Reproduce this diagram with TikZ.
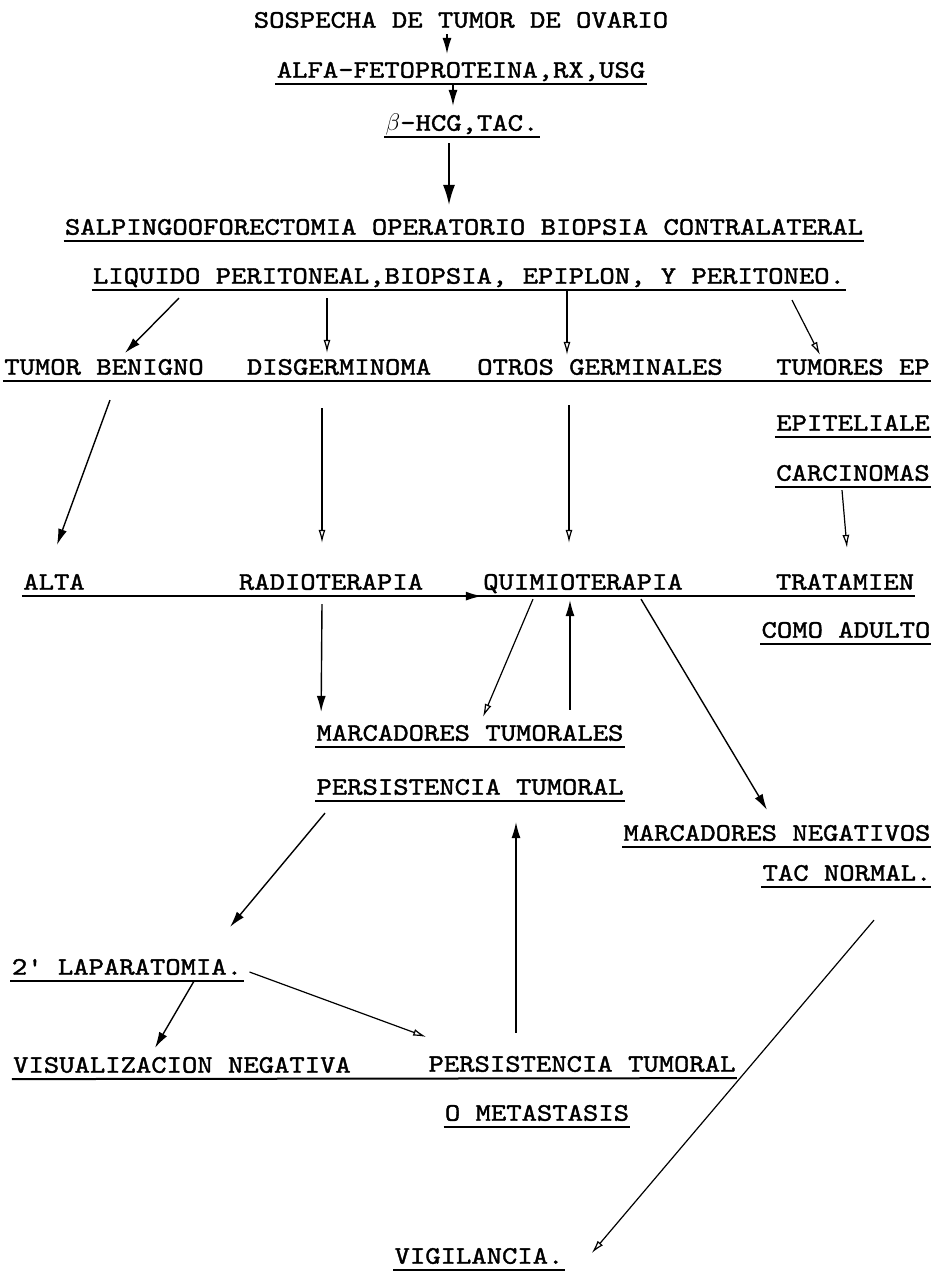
\documentclass[tikz,border=0pt]{standalone}
\usepackage{fontspec}
\setmonofont{lmmono10-regular.otf}[FakeBold=1.5, FakeStretch=1.16]
\usetikzlibrary{arrows.meta, calc}

\begin{document}
\begin{tikzpicture}[
  x=0.5pt, y=-0.5pt,
  txt/.style={inner xsep=0.5pt, inner ysep=3pt, text height=7.7pt, text depth=0pt, font=\fontsize{12.6}{15}\selectfont\ttfamily},
  uline/.style={line width=1pt},
  ul/.style={txt, append after command={(\tikzlastnode.south west) edge[uline] (\tikzlastnode.south east)}},
  arf/.style={line width=0.7pt, -{Latex[length=8pt, width=4.5pt]}},
  arbig/.style={line width=0.8pt, -{Latex[length=10pt, width=6pt]}},
  aro/.style={line width=0.6pt, -{Latex[open, length=6.5pt, width=3.5pt]}}
]
  \useasboundingbox (0,0) rectangle (931,1276);

  \node[txt] (sosp) at (461,20) {SOSPECHA DE TUMOR DE OVARIO};
  \node[ul] (alfa) at (461,70) {ALFA-FETOPROTEINA,RX,USG};
  \node[ul] (bhcg) at (462,123) {$\beta$-HCG,TAC.};
  \node[ul] (salp) at (464,227) {SALPINGOOFORECTOMIA OPERATORIO BIOPSIA CONTRALATERAL};
  \node[ul] (liq) at (469,276) {LIQUIDO PERITONEAL,BIOPSIA, EPIPLON, Y PERITONEO.};

  \node[txt] (benigno) at (104,367) {TUMOR BENIGNO};
  \node[txt] (disger) at (339,367) {DISGERMINOMA};
  \node[txt] (otros) at (600,367) {OTROS GERMINALES};
  \node[txt] (tumep) at (853,367) {TUMORES EP};
  \node[ul] (epit) at (853,423) {EPITELIALE};
  \node[ul] (carc) at (853,473) {CARCINOMAS};

  \node[txt] (alta) at (54,582) {ALTA};
  \node[txt] (radio) at (331,582) {RADIOTERAPIA};
  \node[txt] (quimio) at (583,582) {QUIMIOTERAPIA};
  \node[txt] (trat) at (845,582) {TRATAMIEN};
  \node[ul] (como) at (846,630) {COMO ADULTO};

  \node[ul] (marct) at (470,733) {MARCADORES TUMORALES};
  \node[ul] (pers) at (470,787) {PERSISTENCIA TUMORAL};
  \node[ul] (marcn) at (777,833) {MARCADORES NEGATIVOS};
  \node[ul] (tac) at (847,873) {TAC NORMAL.};

  \node[ul] (lap) at (127,967) {2' LAPARATOMIA.};
  \node[txt] (visual) at (182,1065) {VISUALIZACION NEGATIVA};
  \node[txt] (perst) at (582,1064) {PERSISTENCIA TUMORAL};
  \node[ul] (meta) at (537,1113) {O METASTASIS};
  \node[ul] (vig) at (479,1256) {VIGILANCIA.};

  \draw[uline] (benigno.south west) -- (tumep.south east);
  \draw[uline] (alta.south west) -- (trat.south east);
  \draw[uline] (visual.south west) -- (perst.south east);

  \draw[arf] ($(sosp.south)+(-14,0)$) -- ($(alfa.north)+(-14,-2)$);
  \draw[arf] ($(alfa.south)+(-8,1)$) -- ($(bhcg.north)+(-9,-3)$);
  \draw[arbig] ($(bhcg.south)+(-13,6)$) -- ($(salp.north)+(-15,-8)$);

  \draw[arf] ($(liq.south)+(-290,8)$) -- ($(benigno.north)+(21,0)$);
  \draw[aro] ($(liq.south)+(-142,8)$) -- ($(disger.north)+(-12,0)$);
  \draw[aro] ($(liq.south)+(98,0)$) -- ($(otros.north)+(-33,2)$);
  \draw[aro] ($(liq.south)+(323,10)$) -- ($(tumep.north)+(-33,2)$);

  \draw[arf] ($(benigno.south)+(6,19)$) -- ($(alta.north)+(3,-23)$);
  \draw[aro] ($(disger.south)+(-17,27)$) -- ($(radio.north)+(-9,-25)$);
  \draw[aro] ($(otros.south)+(-31,24)$) -- ($(quimio.north)+(-14,-25)$);
  \draw[aro] ($(carc.south)+(-11,3)$) -- ($(trat.north)+(2,-20)$);
  \draw[arf] (radio.south east) -- (quimio.south west);

  \draw[arf] ($(radio.south)+(-9,8)$) -- ($(marct.north west)+(6,-7)$);
  \draw[aro] ($(quimio.south)+(-50,3)$) -- ($(marct.north)+(13,-2)$);
  \draw[arf] ($(marct.north)+(100,-9)$) -- ($(quimio.south)+(-13,4)$);
  \draw[arf] ($(quimio.south)+(58,3)$) -- ($(marcn.north)+(-10,-9)$);

  \draw[arf] ($(pers.south)+(-145,12)$) -- ($(lap.north)+(103,-26)$);
  \draw[arf] ($(perst.north)+(-66,-17)$) -- ($(pers.south)+(46,21)$);
  \draw[aro] ($(tac.south)+(27,33)$) -- ($(vig.east)+(27,-3)$);

  \draw[arf] ($(lap.south)+(67,0)$) -- ($(visual.north)+(-27,-3)$);
  \draw[aro] ($(lap.east)+(6,5)$) -- ($(perst.north west)+(-1,-13)$);
\end{tikzpicture}
\end{document}
